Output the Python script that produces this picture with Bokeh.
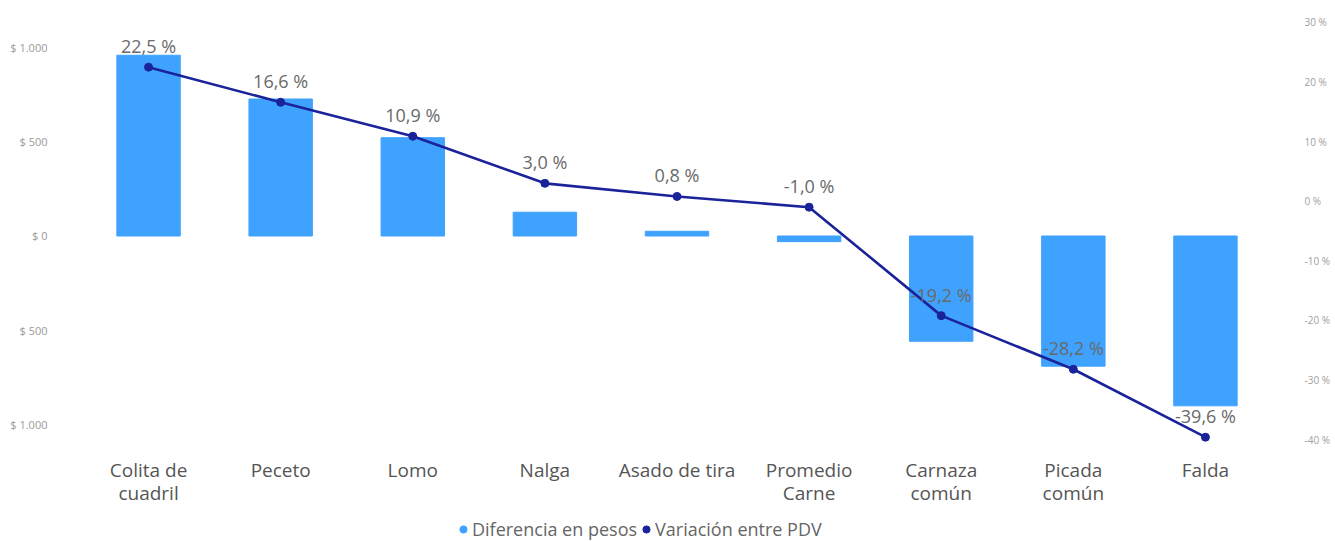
from bokeh.plotting import figure
from bokeh.layouts import column
from bokeh.models import (Range1d, LinearAxis, FixedTicker, ColumnDataSource, LabelSet,
                          Legend, LegendItem, FactorRange)
from bokeh.core.properties import value
from bokeh.embed import file_html
from bokeh.resources import INLINE

categories = ["Colita de\ncuadril", "Peceto", "Lomo", "Nalga", "Asado de tira",
              "Promedio\nCarne", "Carnaza\ncomún", "Picada\ncomún", "Falda"]
diferencia_pesos = [958, 726, 521, 126, 25, -30, -558, -690, -900]
variacion_pdv = [22.5, 16.6, 10.9, 3.0, 0.8, -1.0, -19.2, -28.2, -39.6]
pct_labels = ["22,5 %", "16,6 %", "10,9 %", "3,0 %", "0,8 %", "-1,0 %",
              "-19,2 %", "-28,2 %", "-39,6 %"]
left_ticks = [-1000, -500, 0, 500, 1000]
left_tick_labels = ["$ 1.000", "$ 500", "$ 0", "$ 500", "$ 1.000"]
right_ticks = [30, 20, 10, 0, -10, -20, -30, -40]
right_tick_labels = ["30 %", "20 %", "10 %", "0 %", "-10 %", "-20 %", "-30 %", "-40 %"]
legend_labels = ["Diferencia en pesos", "Variación entre PDV"]

BAR = "#3FA2FF"
LINE = "#1A239A"
FONT = "Open Sans"

src = ColumnDataSource(dict(cat=categories, dif=diferencia_pesos, var=variacion_pdv,
                            lab=pct_labels))

p = figure(width=1335, height=508, output_backend="svg", toolbar_location=None,
           x_range=FactorRange(factors=categories, range_padding=0),
           y_range=Range1d(-1121, 1158),
           min_border_left=82, min_border_right=64, min_border_top=17, min_border_bottom=57)
p.extra_y_ranges = {"pct": Range1d(-41.33, 30.83)}
p.outline_line_color = None
p.grid.visible = False

p.vbar(x="cat", top="dif", bottom=0, width=0.48, source=src, color=BAR)
p.line(x="cat", y="var", source=src, y_range_name="pct", line_color=LINE, line_width=2.6)
p.scatter(x="cat", y="var", source=src, y_range_name="pct", size=8,
          fill_color=LINE, line_color=LINE)

labels = LabelSet(x="cat", y="var", text="lab", source=src, y_range_name="pct",
                  text_align="center", text_baseline="bottom", y_offset=9,
                  text_font=value(FONT), text_font_size=value("18px"),
                  text_color="#6a6a6a")
p.add_layout(labels)

# left axis
ya = p.yaxis[0]
ya.ticker = FixedTicker(ticks=left_ticks)
ya.major_label_overrides = {t: l for t, l in zip(left_ticks, left_tick_labels)}
ya.axis_line_color = None
ya.major_tick_line_color = None
ya.minor_tick_line_color = None
ya.major_label_text_font = FONT
ya.major_label_text_font_size = "11px"
ya.major_label_text_color = "#9a9a9a"
ya.major_label_standoff = 29

# right axis
ra = LinearAxis(y_range_name="pct", ticker=FixedTicker(ticks=right_ticks))
ra.major_label_overrides = {t: l for t, l in zip(right_ticks, right_tick_labels)}
ra.axis_line_color = None
ra.major_tick_line_color = None
ra.minor_tick_line_color = None
ra.major_label_text_font = FONT
ra.major_label_text_font_size = "10px"
ra.major_label_text_color = "#a0a0a0"
ra.major_label_standoff = 27
p.add_layout(ra, "right")

# x axis
xa = p.xaxis[0]
xa.axis_line_color = None
xa.major_tick_line_color = None
xa.minor_tick_line_color = None
xa.major_label_text_font = FONT
xa.major_label_text_font_size = "19px"
xa.major_label_text_line_height = 0.9
xa.major_label_text_color = "#555555"
xa.major_label_standoff = 3

# legend in its own strip below the chart
lf = figure(width=1335, height=33, output_backend="svg", toolbar_location=None,
            x_range=Range1d(0, 1), y_range=Range1d(0, 1),
            x_axis_type=None, y_axis_type=None,
            min_border_left=0, min_border_right=0, min_border_top=0, min_border_bottom=0)
lf.outline_line_color = None
lf.grid.visible = False
r1 = lf.scatter(x=[5], y=[5], size=10, fill_color=BAR, line_color=BAR)
r2 = lf.scatter(x=[5], y=[5], size=10, fill_color=LINE, line_color=LINE)
legend = Legend(items=[LegendItem(label=legend_labels[0], renderers=[r1]),
                       LegendItem(label=legend_labels[1], renderers=[r2])],
                orientation="horizontal", location=(372, 0),
                label_text_font=FONT, label_text_font_size="18px",
                label_text_color="#666666",
                glyph_width=18, glyph_height=20, label_standoff=0, spacing=0,
                padding=0, margin=0, border_line_color=None, background_fill_alpha=0)
lf.add_layout(legend)

layout = column(p, lf, spacing=0)
open("out.html", "w").write(file_html(layout, INLINE))
